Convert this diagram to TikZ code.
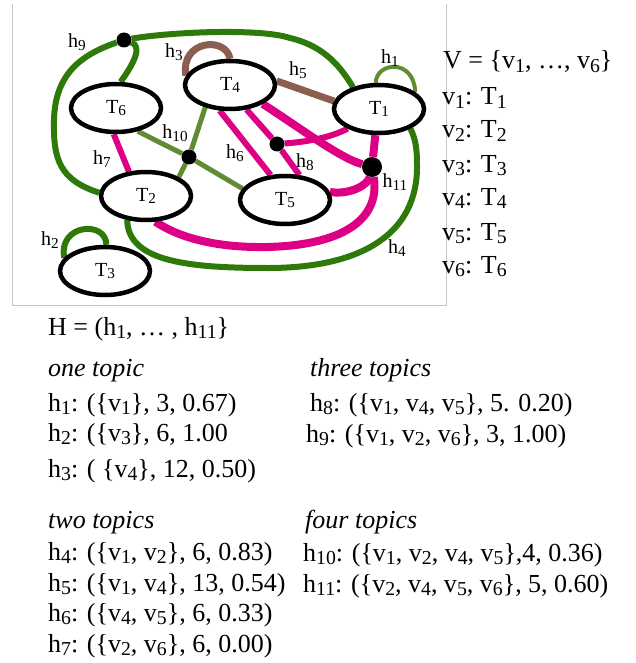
\documentclass[tikz,border=0pt]{standalone}
\usepackage{fontspec}
\usepackage{graphicx}
\setmainfont{Liberation Serif}
\usetikzlibrary{shapes.geometric,backgrounds}
\definecolor{hgreen}{RGB}{45,122,10}
\definecolor{holive}{RGB}{98,140,52}
\definecolor{hbrown}{RGB}{140,94,80}
\definecolor{hpink}{RGB}{222,0,132}
\newcommand{\sbs}[1]{\raisebox{-0.3ex}{\scalebox{0.76}{#1}}}

\begin{document}
\begin{tikzpicture}[x=1pt, y=-1pt,
  topic/.style={draw, ellipse, fill=white, line width=4.5pt, minimum width=90pt, minimum height=48pt, inner sep=0pt, font=\fontsize{20}{24}\selectfont},
  hub/.style={circle, fill=black, inner sep=0pt, minimum size=15pt},
  elab/.style={inner sep=0pt, font=\fontsize{20}{24}\selectfont},
  txt/.style={anchor=base west, inner sep=0pt, font=\fontsize{26}{30}\selectfont},
  greenedge/.style={draw=hgreen, line width=6pt},
  oliveedge/.style={draw=holive, line width=5pt},
  brownedge/.style={draw=hbrown, line width=7pt},
  pinkedge/.style={draw=hpink, line width=6pt}
]
\useasboundingbox (0,0) rectangle (636,663);
\draw[gray!45, line width=1pt] (12,4) -- (12,305) -- (446,305) -- (446,4);

% topics
\node[topic] (t4) at (230,85) {T\sbs{4}};
\node[topic] (t6) at (116,108) {T\sbs{6}};
\node[topic] (t1) at (379,109) {T\sbs{1}};
\node[topic] (t2) at (146,196) {T\sbs{2}};
\node[topic] (t5) at (285,200) {T\sbs{5}};
\node[topic] (t3) at (105,271) {T\sbs{3}};

% hyperedge joints
\node[hub] (j9) at (124,40) {};
\node[hub] (j10) at (189,157) {};
\node[hub] (j8) at (277,144) {};
\node[hub, minimum size=20pt] (j11) at (372,167) {};

\begin{pgfonlayer}{background}
% one topic
\draw[oliveedge, line width=4pt] (t1.97) .. controls (376,62) and (414,58) .. (t1.25);
\draw[greenedge] (t3.162) .. controls (58,224) and (106,220) .. (t3.87);
\draw[brownedge] (t4.168) .. controls (180,40) and (226,36) .. (t4.90);
% two topics
\draw[greenedge] (t2.232) .. controls (128,262) and (190,268) .. (268,268)
  .. controls (360,268) and (418,235) .. (417,165)
  .. controls (417,150) and (416,140) .. (t1.328);
\draw[brownedge] (t4.5) -- (t1.170);
\draw[pinkedge] (t4.248) -- (t5.120);
\draw[pinkedge] (t6.265) -- (t2.125);
% three topics
\draw[pinkedge] (t4.304) -- (j8) -- (t5.60);
\draw[pinkedge] (j8) .. controls (305,142) and (330,138) .. (t1.212);
\draw[greenedge] (t2.176) .. controls (60,180) and (53,160) .. (54,120)
  .. controls (55,75) and (80,55) .. (j9);
\draw[greenedge] (j9) .. controls (170,32) and (260,28) .. (290,38)
  .. controls (320,45) and (338,62) .. (t1.140);
\draw[greenedge] (j9) .. controls (142,46) and (135,62) .. (t6.80);
% four topics
\draw[oliveedge] (t6.313) -- (j10) -- (t5.165);
\draw[oliveedge] (t4.222) -- (j10) -- (t2.30);
\draw[pinkedge, line width=8pt] (t4.330) .. controls (300,128) and (340,158) .. (j11);
\draw[pinkedge, line width=8pt] (t1.262) -- (j11);
\draw[pinkedge, line width=8pt] (t5.10) .. controls (350,195) and (368,185) .. (j11);
\draw[pinkedge, line width=8pt] (j11) .. controls (380,215) and (350,245) .. (267,247)
  .. controls (210,248) and (175,235) .. (t2.290);
\end{pgfonlayer}

% edge labels
\node[elab] (l1) at (390,58) {h\sbs{1}};
\node[elab] (l2) at (50,240) {h\sbs{2}};
\node[elab] (l3) at (174,52) {h\sbs{3}};
\node[elab] (l4) at (397,248) {h\sbs{4}};
\node[elab] (l5) at (298,70) {h\sbs{5}};
\node[elab] (l6) at (235,153) {h\sbs{6}};
\node[elab] (l7) at (102,159) {h\sbs{7}};
\node[elab] (l8) at (305,162) {h\sbs{8}};
\node[elab] (l9) at (77,42) {h\sbs{9}};
\node[elab] (l10) at (175,133) {h\sbs{10}};
\node[elab] (l11) at (395,182) {h\sbs{11}};

% vertex list
\node[txt] (vset) at (443,69) {V = \{v\sbs{1}, …, v\sbs{6}\}};
\node[txt] (v1) at (442,105) {v\sbs{1}: T\sbs{1}};
\node[txt] (v2) at (442,138) {v\sbs{2}: T\sbs{2}};
\node[txt] (v3) at (442,172) {v\sbs{3}: T\sbs{3}};
\node[txt] (v4) at (442,205) {v\sbs{4}: T\sbs{4}};
\node[txt] (v5) at (442,240) {v\sbs{5}: T\sbs{5}};
\node[txt] (v6) at (442,273) {v\sbs{6}: T\sbs{6}};

% hyperedge list
\node[txt] (hset) at (48,335) {H = (h\sbs{1}, … , h\sbs{11}\}};
\node[txt] (g1) at (48,376) {\itshape one topic};
\node[txt] (h1) at (48,411) {h\sbs{1}: (\{v\sbs{1}\}, 3, 0.67)};
\node[txt] (h2) at (48,441) {h\sbs{2}: (\{v\sbs{3}\}, 6, 1.00};
\node[txt] (h3) at (48,477) {h\sbs{3}: ( \{v\sbs{4}\}, 12, 0.50)};
\node[txt] (g2) at (48,528) {\itshape two topics};
\node[txt] (h4) at (48,560) {h\sbs{4}: (\{v\sbs{1}, v\sbs{2}\}, 6, 0.83)};
\node[txt] (h5) at (48,591) {h\sbs{5}: (\{v\sbs{1}, v\sbs{4}\}, 13, 0.54)};
\node[txt] (h6) at (48,621) {h\sbs{6}: (\{v\sbs{4}, v\sbs{5}\}, 6, 0.33)};
\node[txt] (h7) at (48,652) {h\sbs{7}: (\{v\sbs{2}, v\sbs{6}\}, 6, 0.00)};
\node[txt] (g3) at (310,376) {\itshape three topics};
\node[txt] (h8) at (310,411) {h\sbs{8}: (\{v\sbs{1}, v\sbs{4}, v\sbs{5}\}, 5. 0.20)};
\node[txt] (h9) at (306,442) {h\sbs{9}: (\{v\sbs{1}, v\sbs{2}, v\sbs{6}\}, 3, 1.00)};
\node[txt] (g4) at (305,528) {\itshape four topics};
\node[txt] (h10) at (303,561) {h\sbs{10}: (\{v\sbs{1}, v\sbs{2}, v\sbs{4}, v\sbs{5}\},4, 0.36)};
\node[txt] (h11) at (303,592) {h\sbs{11}: (\{v\sbs{2}, v\sbs{4}, v\sbs{5}, v\sbs{6}\}, 5, 0.60)};
\end{tikzpicture}
\end{document}
